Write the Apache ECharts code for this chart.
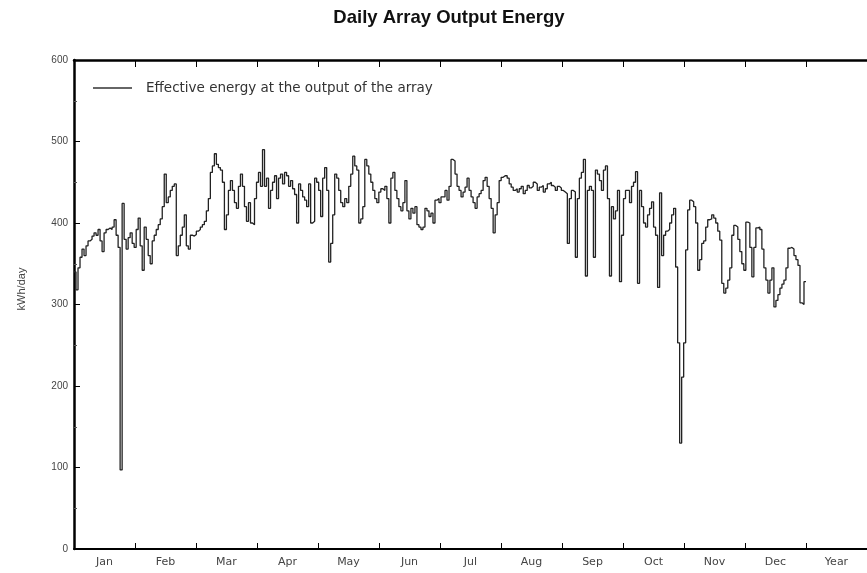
<!DOCTYPE html>
<html>
<head>
<meta charset="utf-8">
<script src="https://cdn.jsdelivr.net/npm/echarts@6/dist/echarts.min.js"></script>
<style>
html,body{margin:0;padding:0;background:#fff;}
#chart{width:867px;height:573px;}
</style>
</head>
<body>
<div id="chart"></div>
<script>
const monthLabels = ['Jan','Feb','Mar','Apr','May','Jun','Jul','Aug','Sep','Oct','Nov','Dec','Year'];
const yTickValues = [0,100,200,300,400,500,600];
const seriesName = 'Effective energy at the output of the array';

const jan = [340,318,345,358,368,360,372,378,380,384,388,385,392,378,365,388,392,394,392,395,404,385,370,97,424,380,368,382,388,375,370];
const feb = [392,406,372,342,395,380,360,350,378,385,392,398,405,420,460,425,432,440,445,448,360,372,385,395,410,372,368,385];
const mar = [384,386,390,392,395,398,402,415,430,462,470,485,472,468,465,450,392,410,440,452,440,425,418,445,460,445,420,402,425,400,398];
const apr = [430,450,462,445,490,445,455,418,440,450,458,430,455,460,448,462,458,445,452,442,435,400,448,440,432,428,420,448,400,402];
const may = [455,450,440,408,455,468,440,352,375,410,460,455,440,425,420,430,425,445,460,482,470,465,400,405,420,478,470,460,450,440,430];
const jun = [425,438,442,440,445,430,400,455,462,440,430,420,415,425,452,415,405,418,412,420,398,395,392,395,418,415,408,412,400,428];
const jul = [430,425,432,432,440,428,445,478,476,460,445,440,432,438,444,455,440,432,425,418,432,436,440,452,456,445,430,418,388,410,425];
const aug = [452,456,458,458,455,448,444,440,442,438,442,445,436,440,446,443,445,450,448,440,444,446,438,442,448,450,446,444,440,445,443];
const sep = [440,438,436,375,430,440,438,358,430,455,462,478,335,440,445,440,358,465,460,452,440,465,470,430,335,420,405,415,440,328];
const oct = [385,430,440,440,425,445,450,463,326,440,420,400,395,410,418,426,395,385,321,437,360,385,390,392,400,410,418,346,253,130,211];
const nov = [253,367,416,428,426,420,400,342,355,375,378,395,404,405,410,406,400,390,379,326,314,320,330,345,385,397,395,380,365,350];
const dec = [342,401,400,370,334,370,394,395,392,368,345,330,314,330,345,297,305,312,320,325,330,345,369,370,368,360,355,348,302,300,328];

const daily = [].concat(jan,feb,mar,apr,may,jun,jul,aug,sep,oct,nov,dec);
const nDays = daily.length;
const lineData = daily.map((v,i)=>[i,v]);
lineData.push([nDays, daily[nDays-1]]);

const chart = echarts.init(document.getElementById('chart'), null, {renderer:'canvas'});
const labelFont = '"DejaVu Sans", "Liberation Sans", Arial, sans-serif';
const option = {
  animation:false,
  backgroundColor:'#fff',
  graphic:[{
    type:'text', x:449, y:18,
    style:{text:'Daily Array Output Energy', font:'bold 18.5px "Liberation Sans", Arial, sans-serif', fill:'#111', textAlign:'center', textVerticalAlign:'middle'}
  },{
    type:'text', x:22, y:289, rotation:Math.PI/2,
    style:{text:'kWh/day', font:'11px "Liberation Sans", Arial, sans-serif', fill:'#444', textAlign:'center', textVerticalAlign:'middle'}
  }],
  legend:{
    left:88, top:76, itemWidth:39, itemHeight:1.5,
    data:[{name:seriesName, icon:'rect'}],
    textStyle:{fontFamily:labelFont, fontSize:13.5, color:'#333', padding:[0,0,0,9]}
  },
  grid:{left:74, top:60, right:-4, bottom:24, containLabel:false},
  xAxis:[
    {type:'category', data:monthLabels, position:'bottom', boundaryGap:true,
     axisLine:{show:true, lineStyle:{color:'#000', width:2}},
     axisTick:{show:true, inside:true, length:6, lineStyle:{color:'#000', width:1}},
     axisLabel:{fontFamily:labelFont, fontSize:11, color:'#444', margin:8},
     splitLine:{show:false}},
    {type:'category', data:monthLabels, position:'top', boundaryGap:true,
     axisLine:{show:true, lineStyle:{color:'#000', width:2.5}},
     axisTick:{show:true, inside:true, length:7, lineStyle:{color:'#000', width:1}},
     axisLabel:{show:false}, splitLine:{show:false}},
    {type:'value', min:0, max:365*13/12, show:false}
  ],
  yAxis:[{
    type:'value', min:0, max:600, interval:100, position:'left',
    axisLine:{show:true, lineStyle:{color:'#000', width:2.5}},
    axisTick:{show:true, inside:true, length:6, lineStyle:{color:'#000'}},
    minorTick:{show:true, splitNumber:2, length:3, lineStyle:{color:'#555'}},
    axisLabel:{fontFamily:'"Liberation Sans", Arial, sans-serif', fontSize:10, color:'#444', margin:6,
      formatter:function(v){return yTickValues.indexOf(v)>=0 ? String(v) : '';}},
    splitLine:{show:false}
  }],
  series:[{
    name:seriesName, type:'line', xAxisIndex:2, yAxisIndex:0,
    step:'end', showSymbol:false, data:lineData,
    lineStyle:{color:'#222', width:1.3},
    itemStyle:{color:'#333'}
  }]
};
chart.setOption(option);
</script>
</body>
</html>
